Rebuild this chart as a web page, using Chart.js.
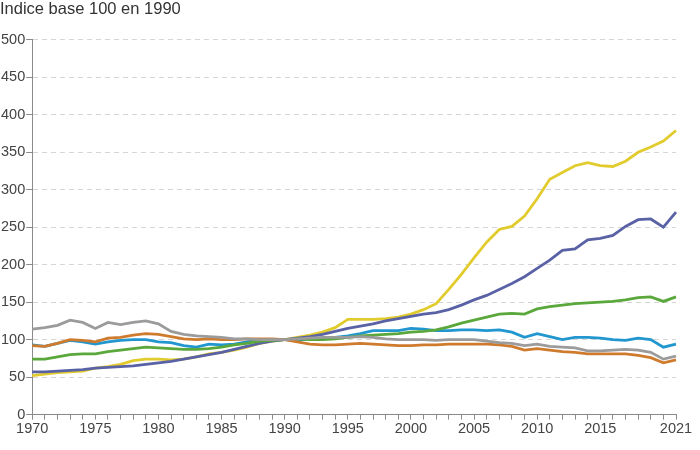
<!DOCTYPE html>
<html>
<head>
<meta charset="utf-8">
<script src="https://cdn.jsdelivr.net/npm/chart.js@4/dist/chart.umd.min.js"></script>
<style>
  html, body { margin: 0; padding: 0; background: #fff; }
  #wrap { width: 700px; height: 450px; position: relative; }
</style>
</head>
<body>
<div id="wrap"><canvas id="chart"></canvas></div>
<script>
const years = [];
for (let y = 1970; y <= 2021; y++) years.push(String(y));

const shownYears = ["1970", "1975", "1980", "1985", "1990", "1995", "2000", "2005", "2010", "2015", "2021"];

const yellowSeries = [52, 54, 56, 57, 58, 62, 64, 67, 72, 74, 74, 73, 74, 77, 81, 83, 86, 90, 95, 98,
  100, 103, 106, 110, 116, 127, 127, 127, 128, 130, 134, 140, 148, 167, 187, 209, 230, 247, 251, 265,
  288, 314, 323, 332, 336, 332, 331, 338, 350, 357, 365, 379];

const navySeries = [57, 57, 58, 59, 60, 62, 63, 64, 65, 67, 69, 71, 74, 77, 80, 83, 87, 91, 95, 98,
  100, 102, 104, 107, 111, 115, 118, 121, 125, 128, 131, 134, 136, 140, 146, 153, 159, 167, 175, 184,
  195, 206, 219, 221, 233, 235, 239, 251, 260, 261, 250, 270];

const greenSeries = [74, 74, 77, 80, 81, 81, 84, 86, 88, 90, 89, 88, 87, 87, 88, 90, 93, 95, 98, 99,
  100, 101, 100, 100, 101, 103, 105, 106, 107, 108, 110, 111, 113, 117, 122, 126, 130, 134, 135, 134,
  141, 144, 146, 148, 149, 150, 151, 153, 156, 157, 151, 157];

const cyanSeries = [93, 91, 95, 99, 97, 94, 97, 99, 100, 100, 97, 96, 92, 90, 94, 93, 94, 97, 100, 100,
  100, 99, 101, 102, 103, 105, 108, 112, 112, 112, 115, 114, 112, 112, 113, 113, 112, 113, 110, 103,
  108, 104, 100, 103, 103, 102, 100, 99, 102, 100, 90, 94];

const graySeries = [114, 116, 119, 126, 123, 115, 123, 120, 123, 125, 121, 111, 107, 105, 104, 103, 101, 101, 100, 100,
  100, 101, 102, 103, 103, 103, 104, 103, 101, 100, 100, 100, 99, 100, 100, 100, 98, 96, 95, 92,
  94, 91, 90, 89, 85, 85, 86, 87, 86, 83, 74, 78];

const orangeSeries = [92, 91, 95, 100, 99, 97, 102, 103, 106, 108, 107, 104, 101, 100, 101, 100, 100, 101, 101, 101,
  100, 97, 94, 93, 93, 94, 95, 94, 93, 92, 92, 93, 93, 94, 94, 94, 94, 93, 91, 86,
  88, 86, 84, 83, 81, 81, 81, 81, 79, 76, 69, 73];

const seriesList = [
  { data: graySeries, color: "#9b9b9b" },
  { data: orangeSeries, color: "#cf7b2e" },
  { data: greenSeries, color: "#5aa83c" },
  { data: cyanSeries, color: "#2196cf" },
  { data: navySeries, color: "#5a62a6" },
  { data: yellowSeries, color: "#e2cb2c" },
];

const fontFamily = "'Liberation Sans', Arial, sans-serif";

new Chart(document.getElementById("chart"), {
  type: "line",
  data: {
    labels: years,
    datasets: seriesList.map((s) => ({
      data: s.data,
      borderColor: s.color,
      backgroundColor: s.color,
      borderWidth: 2.8,
      pointRadius: 0,
      tension: 0,
    })),
  },
  options: {
    responsive: true,
    maintainAspectRatio: false,
    animation: false,
    layout: { padding: { left: 0, right: 24, top: 0, bottom: 11 } },
    scales: {
      x: {
        grid: {
          drawOnChartArea: false,
          drawTicks: true,
          tickLength: 5,
          tickColor: "#8a8a8a",
        },
        border: { color: "#8a8a8a", width: 1 },
        ticks: {
          autoSkip: false,
          maxRotation: 0,
          color: "#444",
          font: { family: fontFamily, size: 14.5 },
          padding: 1,
          callback: function (value) {
            const lab = this.getLabelForValue(value);
            return shownYears.includes(lab) ? lab : "";
          },
        },
      },
      y: {
        min: 0,
        max: 500,
        ticks: {
          stepSize: 50,
          color: "#444",
          font: { family: fontFamily, size: 14.5 },
          padding: 1,
        },
        grid: {
          color: (ctx) => (ctx.tick && ctx.tick.value === 0 ? "rgba(0,0,0,0)" : "#d6d6d6"),
          tickColor: "#8a8a8a",
          tickLength: 6,
        },
        border: { color: "#8a8a8a", width: 1, dash: [5, 4] },
      },
    },
    plugins: {
      legend: { display: false },
      tooltip: { enabled: false },
      title: {
        display: true,
        text: "Indice base 100 en 1990",
        align: "start",
        color: "#333",
        font: { family: fontFamily, size: 16.5, weight: "normal" },
        padding: { top: 0, bottom: 20 },
      },
    },
  },
});
</script>
</body>
</html>
